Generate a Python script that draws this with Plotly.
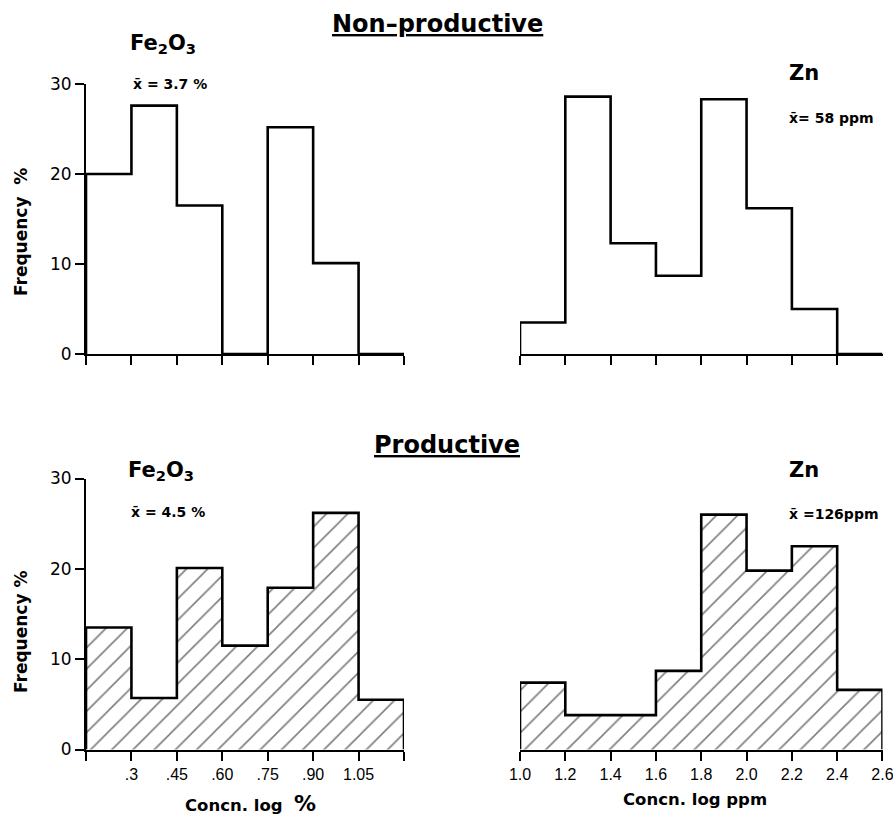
import numpy as np
import plotly.graph_objects as go

# ---- data -------------------------------------------------------------
# Fe2O3 bins (log %), width 0.15, from 0.15 to 1.20
fe_edges = [0.15, 0.30, 0.45, 0.60, 0.75, 0.90, 1.05, 1.20]
fe_nonprod = [20.0, 27.6, 16.5, 0.0, 25.2, 10.1, 0.0]
fe_prod = [13.5, 5.7, 20.1, 11.5, 17.9, 26.2, 5.5]

# Zn bins (log ppm), width 0.2, from 1.0 to 2.6
zn_edges = [1.0, 1.2, 1.4, 1.6, 1.8, 2.0, 2.2, 2.4, 2.6]
zn_nonprod = [3.5, 28.6, 12.3, 8.7, 28.3, 16.2, 5.0, 0.0]
zn_prod = [7.4, 3.8, 3.8, 8.7, 26.0, 19.8, 22.5, 6.6]

fe_tickvals = [0.30, 0.45, 0.60, 0.75, 0.90, 1.05]
fe_ticktext = [".3", ".45", ".60", ".75", ".90", "1.05"]
fe_end_ticks = [0.15, 1.20]
zn_tickvals_top = [1.0, 1.2, 1.4, 1.6, 1.8, 2.0, 2.2, 2.4]
zn_tickvals = [1.0, 1.2, 1.4, 1.6, 1.8, 2.0, 2.2, 2.4, 2.6]
zn_ticktext = ["1.0", "1.2", "1.4", "1.6", "1.8", "2.0", "2.2", "2.4", "2.6"]
y_ticks = [0, 10, 20, 30]

W, H = 893, 817
FONT = "DejaVu Sans"
TICK_FONT = "Liberation Sans"


def px(x):
    return x / W


def py(y):
    return 1 - y / H


def step_outline(edges, vals):
    """Outline of a histogram: up the first edge, across each bin, down the last."""
    e = np.asarray(edges, float)
    v = np.asarray(vals, float)
    xs = [e[0]]
    ys = [0.0]
    for i in range(len(v)):
        xs += [e[i], e[i + 1]]
        ys += [v[i], v[i]]
    xs.append(e[-1])
    ys.append(0.0)
    return xs, ys


def hist_traces(edges, vals, xa, ya, hatched):
    e = np.asarray(edges, float)
    centers = (e[:-1] + e[1:]) / 2
    widths = np.diff(e)
    marker = dict(color="white", line=dict(width=0))
    if hatched:
        marker["pattern"] = dict(shape="/", fgcolor="black", bgcolor="white",
                                 size=15, solidity=0.11)
    bar = go.Bar(x=centers, y=vals, width=widths, marker=marker,
                 xaxis=xa, yaxis=ya, showlegend=False, hoverinfo="skip",
                 cliponaxis=False)
    xs, ys = step_outline(edges, vals)
    line = go.Scatter(x=xs, y=ys, mode="lines",
                      line=dict(color="black", width=2.6),
                      xaxis=xa, yaxis=ya, showlegend=False, hoverinfo="skip",
                      cliponaxis=False)
    return [bar, line]


fig = go.Figure()
fig.add_traces(hist_traces(fe_edges, fe_nonprod, "x", "y", False))
fig.add_traces(hist_traces(zn_edges, zn_nonprod, "x2", "y2", False))
fig.add_traces(hist_traces(fe_edges, fe_prod, "x3", "y3", True))
fig.add_traces(hist_traces(zn_edges, zn_prod, "x4", "y4", True))

left_dom = [px(86), px(404)]
right_dom = [px(520), px(882.5)]
top_dom = [py(354), py(84)]
bot_dom = [py(749.5), py(478.5)]

tickstyle = dict(ticks="outside", ticklen=9, tickwidth=2, tickcolor="black")
xcommon = dict(showline=True, linecolor="black", linewidth=2, showgrid=False,
               zeroline=False, fixedrange=True, automargin=False,
               ticklabeloverflow="allow",
               tickfont=dict(family=TICK_FONT, size=16, color="black"),
               **tickstyle)
ycommon = dict(range=[0, 30], showgrid=False, zeroline=False, fixedrange=True,
               automargin=False)
yshown = dict(showline=True, linecolor="black", linewidth=2, tickvals=y_ticks,
              tickfont=dict(family=FONT, size=17, color="black"), **tickstyle)
fe_minor = dict(tickvals=fe_end_ticks, **tickstyle)

fig.update_layout(
    width=W, height=H,
    margin=dict(l=0, r=0, t=0, b=0),
    paper_bgcolor="white", plot_bgcolor="rgba(0,0,0,0)",
    bargap=0,
    xaxis=dict(domain=left_dom, anchor="y", range=[0.15, 1.2],
               tickvals=fe_tickvals, showticklabels=False, minor=fe_minor,
               **xcommon),
    yaxis=dict(domain=top_dom, anchor="x", **yshown, **ycommon),
    xaxis2=dict(domain=right_dom, anchor="y2", range=[1.0, 2.6],
                tickvals=zn_tickvals_top, showticklabels=False, **xcommon),
    yaxis2=dict(domain=top_dom, anchor="x2", visible=False, **ycommon),
    xaxis3=dict(domain=left_dom, anchor="y3", range=[0.15, 1.2],
                tickvals=fe_tickvals, ticktext=fe_ticktext, minor=fe_minor,
                **xcommon),
    yaxis3=dict(domain=bot_dom, anchor="x3", **yshown, **ycommon),
    xaxis4=dict(domain=right_dom, anchor="y4", range=[1.0, 2.6001],
                tickvals=zn_tickvals, ticktext=zn_ticktext, **xcommon),
    yaxis4=dict(domain=bot_dom, anchor="x4", visible=False, **ycommon),
)

bold = dict(family=FONT, color="black", weight="bold")


def note(text, x, y, size, xanchor="left", angle=0, **extra):
    f = dict(bold, size=size)
    f.update(extra)
    fig.add_annotation(text=text, x=px(x), y=py(y), xref="paper", yref="paper",
                       xanchor=xanchor, yanchor="middle", showarrow=False,
                       textangle=angle, font=f)


# section headings
note("Non\u2013productive", 437, 24, 24, xanchor="center", lineposition="under")
note("Productive", 447, 445, 24, xanchor="center", lineposition="under")

# panel labels
note("Fe<sub>2</sub>O<sub>3</sub>", 128, 44, 21)
note("x\u0304 = 3.7 %", 131, 84, 14)
note("Zn", 787, 73, 21)
note("x\u0304= 58 ppm", 787, 118, 14)
note("Fe<sub>2</sub>O<sub>3</sub>", 126, 471, 21)
note("x\u0304 = 4.5 %", 129, 512, 14)
note("Zn", 787, 470, 21)
note("x\u0304 =126ppm", 787, 514, 14)

# axis titles
note("Frequency\u00a0\u00a0%", 21, 232, 17, xanchor="center", angle=-90)
note("Frequency\u00a0%", 21, 632, 17, xanchor="center", angle=-90)
note("Concn. log  <span style='font-size:22px'>%</span>", 251, 803, 16.5,
     xanchor="center")
note("Concn. log ppm", 695, 799, 16.5, xanchor="center")

fig.write_html("out.html")
